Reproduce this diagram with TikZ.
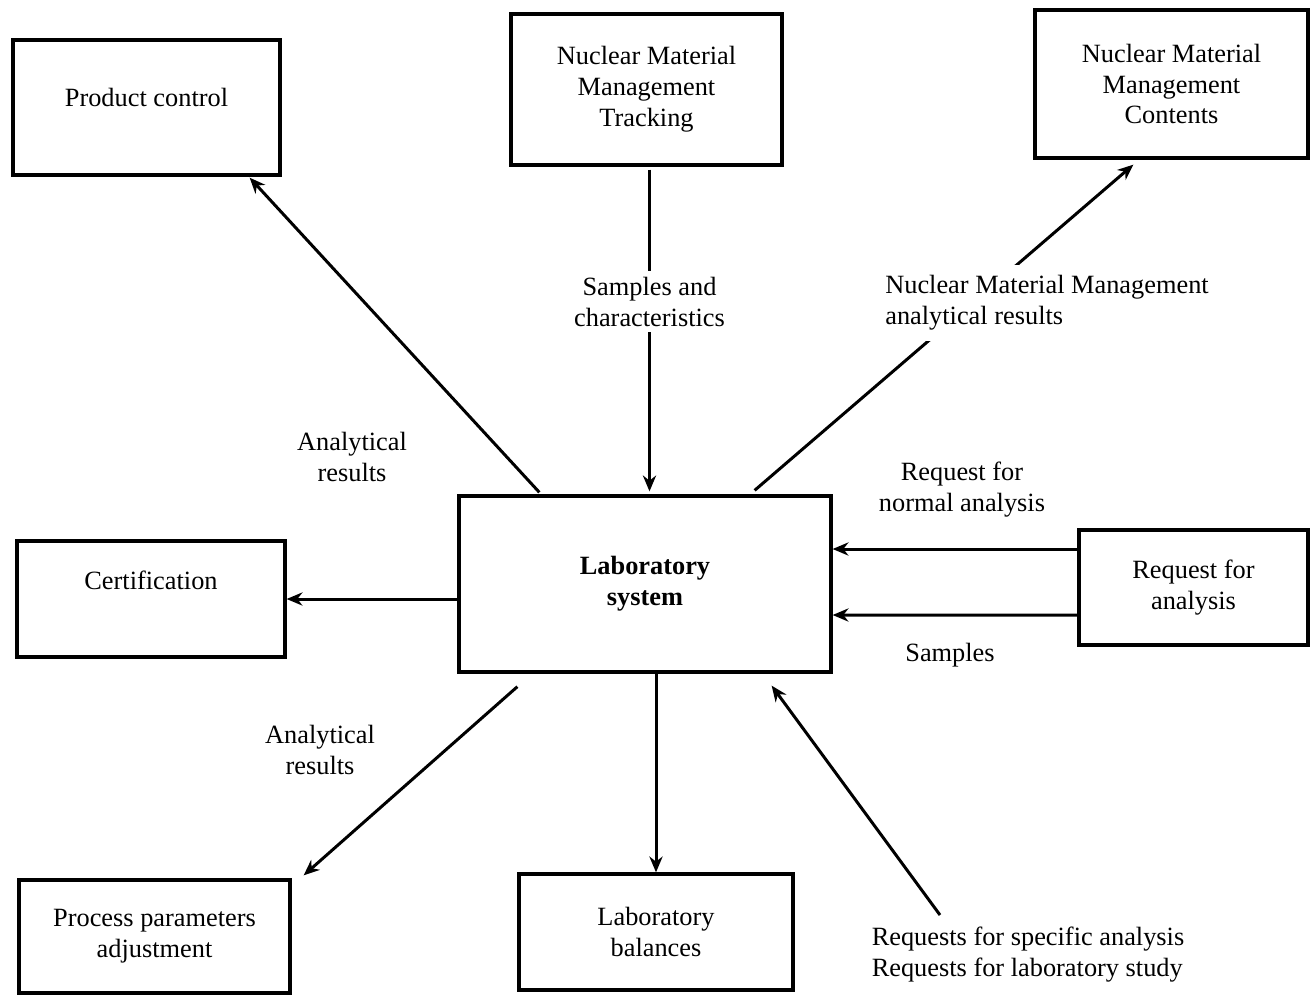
\documentclass[tikz,border=0pt]{standalone}
\usepackage{fontspec}
\setmainfont{Liberation Serif}
\usetikzlibrary{arrows.meta,calc}
\tikzset{
  box/.style={draw, line width=1.9pt, align=center},
  flow/.style={line width=1.7pt, -{Stealth[length=9pt,width=7.5pt]}},
  note/.style={align=center},
}
\begin{document}
\begin{tikzpicture}[x=0.02cm, y=-0.02cm, every node/.style={font=\fontsize{15}{17.6}\selectfont}]
  \useasboundingbox (0,0) rectangle (1315,995);

  % Boxes
  \node[box, minimum width=5.34cm, minimum height=2.7cm, text depth=0.4cm] (prod) at (146.5,107.5) {Product control};
  \node[box, minimum width=5.42cm, minimum height=3.02cm] (track) at (646.5,89.5) {Nuclear Material\\Management\\Tracking};
  \node[box, minimum width=5.46cm, minimum height=2.96cm] (cont) at (1171.5,84) {Nuclear Material\\Management\\Contents};
  \node[box, minimum width=5.36cm, minimum height=2.32cm, text depth=0.74cm] (cert) at (151,599) {Certification};
  \node[box, minimum width=7.44cm, minimum height=3.52cm, font=\fontsize{15}{17.6}\selectfont\bfseries] (lab) at (645,584) {Laboratory\\system};
  \node[box, minimum width=4.58cm, minimum height=2.3cm] (req) at (1193.5,587.5) {Request for\\analysis};
  \node[box, minimum width=5.42cm, minimum height=2.26cm] (proc) at (154.5,936.5) {Process parameters\\adjustment};
  \node[box, minimum width=5.48cm, minimum height=2.32cm] (bal) at (656,932) {Laboratory\\balances};

  % Outgoing results
  \draw[flow] ($(lab.north west)+(82,-2)$) -- ($(prod.south east)+(-32,1)$);
  \node[note] (res1) at (352,457) {Analytical\\results};
  \draw[flow] (lab.west |- cert.east) -- (cert.east);
  \draw[flow] ($(lab.south west)+(60,13)$) -- ($(proc.north east)+(12,-3)$);
  \node[note] (res2) at (320,750) {Analytical\\results};
  \draw[flow] (bal.north |- lab.south) -- (bal.north);
  \draw[flow] ($(lab.north east)+(-78,-4)$) -- ($(cont.south west)+(100,5)$);
  \node[note, align=left, fill=white, inner sep=6pt] (nmmres) at (1047,303) {Nuclear Material Management\\analytical results};

  % Incoming requests
  \draw[flow] ($(track.south)+(3,3)$) -- ($(track.south |- lab.north)+(3,-3)$)
    node[note, pos=0.41, fill=white] (smpchar) {Samples and\\characteristics};
  \draw[flow] ($(req.west)+(0,-38.5)$) -- ($(lab.east)+(0,-35)$);
  \draw[flow] ($(req.west)+(0,27.5)$) -- ($(lab.east)+(0,31)$);
  \node[note] (normreq) at (962,490) {Request for\\normal analysis};
  \node[note] (smp) at (950,655) {Samples};
  \node[note, align=left] (specreq) at (1028,955) {Requests for specific analysis\\Requests for laboratory study};
  \coordinate (specstart) at (940,915);
  \draw[flow] (specstart) -- ($(lab.south east)+(-61,12)$);
\end{tikzpicture}
\end{document}
